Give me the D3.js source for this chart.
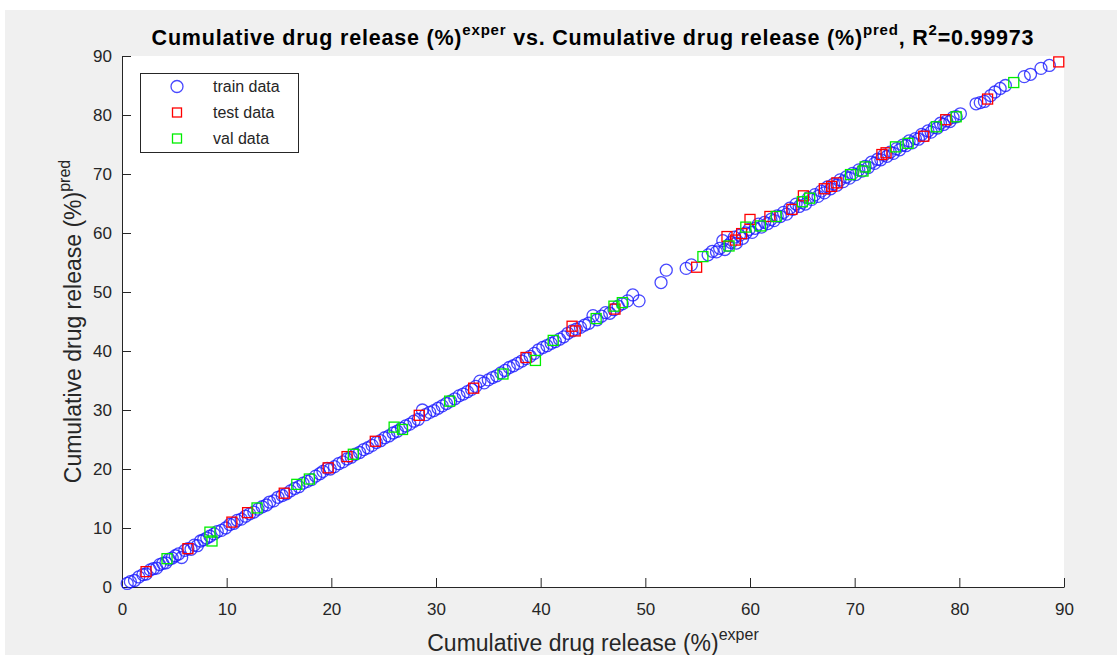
<!DOCTYPE html>
<html>
<head>
<meta charset="utf-8">
<script src="https://cdn.jsdelivr.net/npm/d3@7"></script>
<style>
  html, body { margin: 0; padding: 0; background: #ffffff; }
  svg { display: block; font-family: "Liberation Sans", Arial, Helvetica, sans-serif; }
</style>
</head>
<body>
<svg id="chart" width="1117" height="655"></svg>
<script>
// Training set: experimental vs predicted cumulative release (%)
const trainExper = [
  0.5, 0.8, 1.2, 1.6, 2.0, 2.3, 2.7, 3.0, 3.3, 3.6, 3.9, 4.2, 4.5, 4.8, 5.1, 5.4, 5.7, 6.0, 6.3, 6.6,
  6.9, 7.2, 7.5, 7.8, 8.1, 8.4, 8.8, 9.1, 9.5, 9.9,
  10.3, 10.7, 11.0, 11.4, 11.8, 12.2, 12.6, 13.0, 13.4, 13.8, 14.1, 14.5, 14.9, 15.3, 15.7, 16.1, 16.5,
  16.9, 17.3, 17.7, 18.1, 18.5, 18.9, 19.2, 19.6, 19.9,
  20.3, 20.7, 21.1, 21.5, 21.9, 22.3, 22.7, 23.1, 23.5, 23.9, 24.3, 24.7, 25.1, 25.5, 25.9, 26.3, 26.7,
  27.1, 27.5, 27.9, 28.3, 28.7, 29.0, 29.4, 29.8,
  30.2, 30.6, 31.0, 31.4, 31.8, 32.2, 32.6, 33.0, 33.4, 33.8, 34.2, 34.6, 35.0, 35.4, 35.8, 36.2, 36.6,
  37.0, 37.4, 37.8, 38.2, 38.6, 39.0, 39.4, 39.8,
  40.2, 40.6, 41.0, 41.4, 41.8, 42.2, 42.6, 43.0, 43.4, 43.8, 44.2, 44.6, 45.0, 45.4, 45.8, 46.2, 46.6,
  47.0, 47.4, 47.8, 48.3, 48.8, 49.4,
  51.5, 52.0, 53.9, 54.4,
  56.0, 56.4, 56.8, 57.1, 57.4, 57.6, 57.9, 58.2, 58.5, 58.7, 59.0, 59.3, 59.6, 59.9, 60.2, 60.5, 60.8,
  61.1, 61.4, 61.7, 62.0, 62.3, 62.6, 62.9, 63.2, 63.5, 63.8, 64.1, 64.4, 64.7, 65.0, 65.3, 65.6, 65.9,
  66.2, 66.5, 66.8, 67.1, 67.4, 67.7, 68.0, 68.3, 68.6, 68.9, 69.2, 69.5, 69.8, 70.1, 70.4, 70.7, 71.0,
  71.3, 71.6, 71.9, 72.2, 72.5, 72.8, 73.1, 73.4, 73.7, 74.0, 74.3, 74.6, 74.9, 75.2, 75.5, 75.8, 76.1,
  76.4, 76.7, 77.0, 77.3, 77.6, 77.9, 78.2, 78.5, 78.8, 79.1, 79.4, 79.7, 80.1,
  81.6, 82.0, 82.4, 83.0, 83.4, 83.9, 84.4, 86.2, 86.8, 87.8, 88.6
];
const trainPred = [
  0.6, 0.9, 1.1, 1.7, 2.1, 2.2, 2.9, 3.1, 3.2, 3.8, 4.0, 4.1, 4.7, 4.9, 5.3, 5.6, 5.0, 6.2, 6.5, 6.4,
  7.1, 7.0, 7.8, 8.0, 8.3, 8.6, 9.0, 9.4, 9.6, 10.0,
  10.6, 10.8, 11.3, 11.5, 12.0, 12.4, 12.7, 13.2, 13.6, 13.9, 14.4, 14.6, 15.2, 15.5, 15.8, 16.3, 16.7,
  17.0, 17.6, 17.9, 18.2, 18.8, 19.2, 19.6, 20.1, 20.0,
  20.4, 20.9, 21.2, 21.7, 22.0, 22.5, 22.8, 23.3, 23.6, 24.0, 24.5, 24.8, 25.3, 25.6, 26.1, 26.4, 26.9,
  27.3, 27.6, 28.1, 28.4, 30.0, 29.2, 29.6, 29.9,
  30.3, 30.7, 31.1, 31.5, 31.9, 32.4, 32.7, 33.1, 33.5, 34.0, 34.9, 34.6, 35.1, 35.5, 35.8, 36.3, 36.7,
  37.2, 37.5, 37.9, 38.3, 38.7, 39.1, 39.6, 40.2,
  40.6, 40.9, 41.3, 41.6, 42.0, 42.4, 43.0, 43.4, 43.7, 44.0, 44.4, 44.7, 46.0, 45.3, 45.9, 46.5, 46.4,
  47.0, 47.6, 48.0, 48.5, 49.5, 48.5,
  51.6, 53.7, 54.0, 54.6,
  56.3, 56.9, 56.8, 57.4, 58.7, 57.2, 57.9, 58.4, 59.3, 58.3, 59.6, 59.1, 60.0, 60.6, 60.1, 60.8, 61.5,
  61.0, 61.8, 61.6, 62.3, 62.1, 62.9, 62.8, 63.5, 63.2, 64.2, 64.0, 64.9, 64.5, 65.2, 64.9, 66.0, 65.7,
  66.5, 66.2, 67.1, 66.8, 67.8, 67.5, 68.3, 68.1, 69.0, 68.7, 69.5, 69.3, 70.1, 69.9, 70.7, 70.5, 71.3,
  71.1, 72.0, 71.8, 72.5, 72.4, 73.2, 73.0, 73.7, 73.5, 74.3, 74.1, 74.9, 74.8, 75.6, 75.3, 76.0, 75.9,
  76.7, 76.5, 77.3, 77.1, 77.9, 77.8, 78.6, 78.4, 79.0, 78.9, 79.6, 79.7, 80.2,
  81.9, 82.1, 82.3, 83.3, 83.9, 84.5, 85.0, 86.5, 86.9, 87.9, 88.4
];

// Test set
const testExper = [2.3, 6.3, 10.5, 12.0, 15.5, 19.7, 21.5, 24.2, 28.4, 33.6, 38.6, 43.0, 43.3, 47.1,
  54.9, 57.8, 58.6, 59.2, 60.0, 61.9, 64.0, 65.1, 67.1, 67.8, 68.3, 72.6, 73.0, 76.6, 78.7, 82.7, 89.5];
const testPred = [2.6, 6.5, 11.0, 12.6, 15.9, 20.2, 22.1, 24.7, 29.1, 33.7, 38.9, 44.2, 43.4, 47.1,
  54.2, 59.4, 58.8, 59.9, 62.3, 62.8, 64.0, 66.3, 67.5, 67.9, 68.5, 73.3, 73.6, 76.4, 79.2, 82.7, 89.0];

// Validation set
const valExper = [4.3, 8.4, 8.6, 12.9, 16.7, 17.9, 22.1, 26.0, 26.8, 31.3, 36.4, 39.5, 41.2, 45.3,
  47.0, 47.8, 55.5, 58.0, 59.6, 61.0, 62.5, 65.0, 65.7, 69.6, 70.8, 71.0, 73.9, 75.1, 77.8, 79.7, 85.2];
const valPred = [4.8, 9.3, 7.8, 13.4, 17.4, 18.3, 22.5, 27.1, 26.7, 31.5, 36.1, 38.4, 41.8, 45.5,
  47.6, 48.2, 56.0, 57.8, 61.0, 61.2, 62.8, 65.3, 65.9, 69.9, 70.5, 71.2, 74.6, 75.2, 78.0, 79.7, 85.5];

const xTicks = [0, 10, 20, 30, 40, 50, 60, 70, 80, 90];
const yTicks = [0, 10, 20, 30, 40, 50, 60, 70, 80, 90];
const legendLabels = ["train data", "test data", "val data"];

const W = 1117, H = 655;
const plot = { left: 122, right: 1064, top: 56, bottom: 587 };
const axisColor = "#262626";

const svg = d3.select("#chart");

// Figure background (light gray window with thin white margin at top/left)
svg.append("rect").attr("x", 0).attr("y", 0).attr("width", W).attr("height", H).attr("fill", "#ffffff");
svg.append("rect").attr("x", 5).attr("y", 10).attr("width", W - 5).attr("height", H - 10).attr("fill", "#f0f0f0");

// White axes area
svg.append("rect")
  .attr("x", plot.left).attr("y", plot.top)
  .attr("width", plot.right - plot.left).attr("height", plot.bottom - plot.top)
  .attr("fill", "#ffffff");

const x = d3.scaleLinear().domain([0, 90]).range([plot.left, plot.right]);
const y = d3.scaleLinear().domain([0, 90]).range([plot.bottom, plot.top]);

// Axes with inward ticks
const xAxis = svg.append("g")
  .attr("transform", `translate(0,${plot.bottom})`)
  .call(d3.axisBottom(x).tickValues(xTicks).tickSize(-9).tickPadding(20).tickSizeOuter(0));
const yAxis = svg.append("g")
  .attr("transform", `translate(${plot.left},0)`)
  .call(d3.axisLeft(y).tickValues(yTicks).tickSize(-9).tickPadding(19).tickSizeOuter(0));

[xAxis, yAxis].forEach(g => {
  g.select(".domain").attr("stroke", axisColor).attr("stroke-width", 1);
  g.selectAll(".tick line").attr("stroke", axisColor).attr("stroke-width", 1);
  g.selectAll(".tick text")
    .attr("fill", axisColor)
    .style("font-size", "17px")
    .style("font-family", "'Liberation Sans', Arial, sans-serif");
});
xAxis.selectAll(".tick text").attr("dy", "0.45em");
yAxis.selectAll(".tick text").attr("x", -10);

// Markers
const markerR = 6;
const gTrain = svg.append("g");
gTrain.selectAll("circle")
  .data(d3.zip(trainExper, trainPred))
  .join("circle")
  .attr("cx", d => x(d[0])).attr("cy", d => y(d[1]))
  .attr("r", markerR)
  .attr("fill", "none")
  .attr("stroke", "#1a1aff")
  .attr("stroke-opacity", 0.8)
  .attr("stroke-width", 1.3);

const sq = 10;
function squares(data, color) {
  svg.append("g").selectAll("rect")
    .data(data)
    .join("rect")
    .attr("x", d => x(d[0]) - sq / 2).attr("y", d => y(d[1]) - sq / 2)
    .attr("width", sq).attr("height", sq)
    .attr("fill", "none")
    .attr("stroke", color)
    .attr("stroke-width", 1.3);
}
squares(d3.zip(testExper, testPred), "#ff0000");
squares(d3.zip(valExper, valPred), "#00ee00");

// Legend
const legend = svg.append("g");
legend.append("rect")
  .attr("x", 140.5).attr("y", 73.5).attr("width", 158).attr("height", 79)
  .attr("fill", "#ffffff").attr("stroke", axisColor).attr("stroke-width", 1);
const rows = [86.5, 112.5, 138.5];
legend.append("circle").attr("cx", 177).attr("cy", rows[0]).attr("r", markerR)
  .attr("fill", "none").attr("stroke", "#1a1aff").attr("stroke-opacity", 0.8).attr("stroke-width", 1.3);
legend.append("rect").attr("x", 177 - 4.5).attr("y", rows[1] - 4.5).attr("width", 9).attr("height", 9)
  .attr("fill", "none").attr("stroke", "#ff0000").attr("stroke-width", 1.3);
legend.append("rect").attr("x", 177 - 4.5).attr("y", rows[2] - 4.5).attr("width", 9).attr("height", 9)
  .attr("fill", "none").attr("stroke", "#00ee00").attr("stroke-width", 1.3);
legend.selectAll("text.lbl")
  .data(legendLabels)
  .join("text")
  .attr("class", "lbl")
  .attr("x", 213).attr("y", (d, i) => rows[i])
  .attr("dy", "0.35em")
  .attr("fill", axisColor)
  .style("font-size", "16px")
  .text(d => d);

// Title with superscripts
const title = svg.append("text")
  .attr("x", (plot.left + plot.right) / 2).attr("y", 45)
  .attr("text-anchor", "middle")
  .attr("fill", "#000000")
  .style("font-size", "21.5px")
  .style("letter-spacing", "0.8px")
  .style("font-weight", "bold");
title.append("tspan").text("Cumulative drug release (%)");
title.append("tspan").attr("dy", -10).style("font-size", "15px").text("exper");
title.append("tspan").attr("dy", 10).text(" vs. Cumulative drug release (%)");
title.append("tspan").attr("dy", -10).style("font-size", "15px").text("pred");
title.append("tspan").attr("dy", 10).text(", R");
title.append("tspan").attr("dy", -10).style("font-size", "15px").text("2");
title.append("tspan").attr("dy", 10).text("=0.99973");

// Axis labels
const xLabel = svg.append("text")
  .attr("x", (plot.left + plot.right) / 2).attr("y", 651)
  .attr("text-anchor", "middle")
  .attr("fill", axisColor)
  .style("font-size", "23px");
xLabel.append("tspan").text("Cumulative drug release (%)");
xLabel.append("tspan").attr("dy", -11).style("font-size", "16px").text("exper");

const yLabel = svg.append("text")
  .attr("transform", `translate(81,${(plot.top + plot.bottom) / 2}) rotate(-90)`)
  .attr("text-anchor", "middle")
  .attr("fill", axisColor)
  .style("font-size", "23px");
yLabel.append("tspan").text("Cumulative drug release (%)");
yLabel.append("tspan").attr("dy", -11).style("font-size", "16px").text("pred");
</script>
</body>
</html>
